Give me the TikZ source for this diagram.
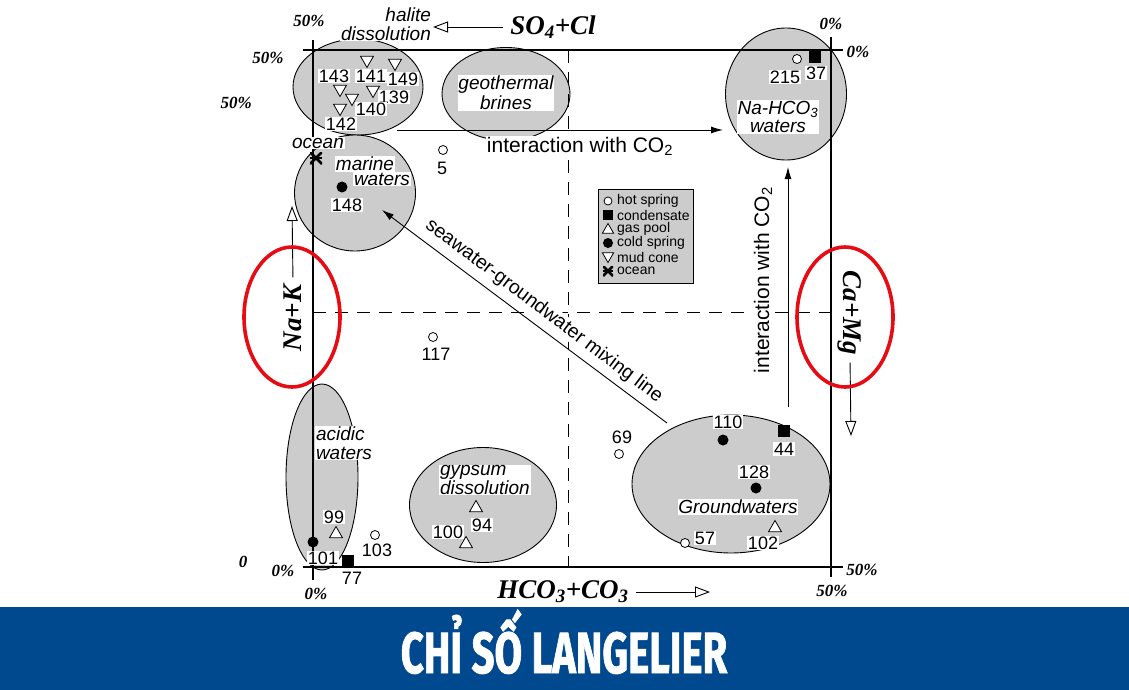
\documentclass[tikz,border=0pt]{standalone}
\usepackage{graphicx}
\usepackage{fontspec}
\setmainfont{Liberation Sans}
\newfontfamily\axfont{Liberation Serif}
\newfontfamily\bannerfont[BoldFeatures={FakeBold=1.6}]{Fira Sans}
\usetikzlibrary{shapes.geometric,arrows.meta}
\definecolor{bannerblue}{RGB}{0,73,142}
\definecolor{fieldgray}{gray}{0.80}
\definecolor{markred}{RGB}{230,12,20}

\begin{document}
\begin{tikzpicture}[x=1pt, y=-1pt,
  field/.style={ellipse, draw, line width=0.9pt, fill=fieldgray, inner sep=0},
  num/.style={fill=white, inner sep=0.6pt, font=\fontsize{18}{18}\selectfont},
  note/.style={fill=white, inner sep=0.8pt, font=\fontsize{19}{18.5}\selectfont\itshape},
  proc/.style={fill=white, inner sep=0.8pt, font=\fontsize{21}{21}\selectfont},
  legtxt/.style={inner sep=0, anchor=west, font=\fontsize{14}{14}\selectfont},
  axlabel/.style={font=\axfont\bfseries\itshape\fontsize{27}{27}\selectfont},
  pct/.style={inner sep=0, font=\axfont\bfseries\itshape\fontsize{17}{17}\selectfont},
  boxline/.style={line width=1.4pt},
  halfline/.style={dash pattern=on 13pt off 9pt, line width=0.9pt},
  opentip/.style={-{Triangle[open, length=15pt, width=11pt]}, line width=0.9pt, shorten <=4pt},
  solidtip/.style={-{Latex[length=12pt, width=7pt]}, line width=0.9pt},
  hotspr/.style={circle, draw, fill=white, line width=0.8pt, inner sep=0, minimum size=9pt},
  cond/.style={rectangle, fill=black, inner sep=0, minimum size=12pt},
  coldspr/.style={circle, fill=black, inner sep=0, minimum size=11pt},
  gaspl/.style={regular polygon, regular polygon sides=3, draw, fill=white, line width=0.8pt, inner sep=0, minimum size=15pt},
  mudcn/.style={gaspl, shape border rotate=180},
  oceanmk/.style={inner sep=0, minimum size=12pt, path picture={
    \draw[line width=2.6pt] (path picture bounding box.north west) -- (path picture bounding box.south east)
      (path picture bounding box.north east) -- (path picture bounding box.south west);
    \draw[line width=2pt] (path picture bounding box.west) -- (path picture bounding box.east);}},
  ringmark/.style={ellipse, draw=markred, line width=3.6pt, inner sep=0}]

  \useasboundingbox (0,0) rectangle (1129,690);

  \node[field, minimum width=130pt, minimum height=96pt] (fhalite) at (358,87) {};
  \node[field, minimum width=128pt, minimum height=93pt] (fbrine) at (506,94) {};
  \node[field, minimum width=121pt, minimum height=116pt] (fmarine) at (355,193) {};
  \node[field, minimum width=121pt, minimum height=132pt] (fnahco) at (786,94) {};
  \node[field, minimum width=72pt, minimum height=186pt] (facid) at (322,477) {};
  \node[field, minimum width=147pt, minimum height=115pt] (fgyps) at (483,505) {};
  \node[field, minimum width=198pt, minimum height=138pt] (fground) at (731,484) {};

  \draw[boxline] (303,50) -- (843,50);
  \draw[boxline] (303,567) -- (843,567);
  \draw[boxline] (313,40) -- (313,580);
  \draw[boxline] (831,37) -- (831,577);
  \draw[halfline] (568,50) -- (568,567);
  \draw[halfline] (313,312) -- (831,312);

  \coordinate (co2a) at (397,130);
  \coordinate (co2b) at (723,130);
  \coordinate (co2c) at (788,407);
  \coordinate (co2d) at (788,167);
  \coordinate (mixa) at (667,423);
  \coordinate (mixb) at (382,210);
  \draw[solidtip] (co2a) -- (co2b);
  \draw[solidtip] (co2c) -- (co2d);
  \draw[solidtip] (mixa) -- (mixb);

  \node[proc] (lco2h) at (580,146) {interaction with CO\textsubscript{2}};
  \node[proc, rotate=90] (lco2v) at (763,280) {interaction with CO\textsubscript{2}};
  \node[proc, font=\fontsize{19.5}{20}\selectfont, rotate=-37] (lmix) at (544,311) {seawater-groundwater mixing line};

  \node[draw, line width=0.9pt, fill=fieldgray, minimum width=95pt, minimum height=94pt, inner sep=0] (legend) at (645.5,236) {};
  \foreach \txt [count=\i] in {hot spring, condensate, gas pool, cold spring, mud cone, ocean}
    \node[legtxt] (leg\i) at (617,187+14*\i) {\txt};
  \node[hotspr, minimum size=8pt] (k1) at (608,201) {};
  \node[cond, minimum size=10pt] (k2) at (608,215) {};
  \node[gaspl, minimum size=13pt] (k3) at (608,230) {};
  \node[coldspr, minimum size=10pt] (k4) at (608,243) {};
  \node[mudcn, minimum size=13pt] (k5) at (608,256) {};
  \node[oceanmk, minimum size=10pt] (k6) at (608,271) {};

  \node[note, align=right] (lhalite) at (386,24) {halite\\dissolution};
  \node[note, align=center, font=\fontsize{19}{20}\selectfont\itshape] (lbrine) at (506,93) {geothermal\\brines};
  \node[note] (locean) at (318,143) {ocean};
  \node[note] (lmar1) at (365,164) {marine};
  \node[note] (lmar2) at (382,179) {waters};
  \node[note, align=center] (lnahco) at (778,117) {Na-HCO\textsubscript{3}\\waters};
  \node[note, align=left, anchor=west] (lacid) at (315,443) {acidic\\waters};
  \node[note, align=left, anchor=west, font=\fontsize{19}{16.5}\selectfont\itshape] (lgyps) at (439,480) {gypsum\\dissolution};
  \node[note] (lground) at (738,507) {Groundwaters};

  \node[num] (l143) at (334,76) {143};
  \node[num] (l141) at (371,76) {141};
  \node[num] (l149) at (403,79) {149};
  \node[num] (l139) at (394,97) {139};
  \node[num] (l140) at (371,109) {140};
  \node[num] (l142) at (341,124) {142};
  \node[num] (l5) at (442,168) {5};
  \node[num] (l148) at (347,205) {148};
  \node[num] (l215) at (785,77) {215};
  \node[num] (l37) at (816,73) {37};
  \node[num] (l117) at (436,354) {117};
  \node[num] (l69) at (622,437) {69};
  \node[num] (l110) at (728,422) {110};
  \node[num] (l44) at (784,449) {44};
  \node[num] (l128) at (754,472) {128};
  \node[num] (l102) at (763,543) {102};
  \node[num] (l57) at (705,538) {57};
  \node[num] (l99) at (334,517) {99};
  \node[num] (l101) at (323,558) {101};
  \node[num] (l77) at (352,578) {77};
  \node[num] (l103) at (377,550) {103};
  \node[num] (l94) at (482,525) {94};
  \node[num] (l100) at (448,532) {100};

  \node[mudcn] (m141) at (367,60) {};
  \node[mudcn] (m149) at (395,63) {};
  \node[mudcn] (m143) at (340,89) {};
  \node[mudcn] (m139) at (373,90) {};
  \node[mudcn] (m140) at (352,98) {};
  \node[mudcn] (m142) at (340,108) {};
  \node[hotspr] (h5) at (443,150) {};
  \node[oceanmk] (ocean) at (316,158) {};
  \node[coldspr] (c148) at (342,187) {};
  \node[hotspr] (h215) at (797,59) {};
  \node[cond] (s37) at (815,57) {};
  \node[hotspr] (h117) at (433,337) {};
  \node[hotspr] (h69) at (619,454) {};
  \node[coldspr] (c110) at (723,440) {};
  \node[cond] (s44) at (784,431) {};
  \node[coldspr] (c128) at (756,488) {};
  \node[gaspl] (g102) at (775,528) {};
  \node[hotspr] (h57) at (685,543) {};
  \node[gaspl] (g99) at (336,534) {};
  \node[coldspr] (c101) at (313,542) {};
  \node[cond] (s77) at (348,561) {};
  \node[hotspr] (h103) at (375,535) {};
  \node[gaspl] (g94) at (476,508) {};
  \node[gaspl] (g100) at (466,544) {};

  \node[axlabel] (so4) at (553,27) {SO\textsubscript{4}+Cl};
  \node[axlabel] (hco3) at (563,592) {HCO\textsubscript{3}+CO\textsubscript{3}};
  \node[axlabel, rotate=90] (nak) at (293,318) {Na+K};
  \node[axlabel, rotate=-90] (camg) at (850,313) {Ca+Mg};
  \coordinate (soarr) at (433,27);
  \coordinate (hcoarr) at (710,592);
  \coordinate (nakarr) at (292,206);
  \coordinate (camgarr) at (851,436);
  \draw[opentip] (so4.west) -- (soarr);
  \draw[opentip] (hco3.east) -- (hcoarr);
  \draw[opentip] (nak.east) -- (nakarr);
  \draw[opentip] (camg.east) -- (camgarr);

  \node[pct] (p1) at (309,21) {50\%};
  \node[pct] (p2) at (268,58) {50\%};
  \node[pct, anchor=east] (p3) at (252,103) {50\%};
  \node[pct] (p4) at (831,24) {0\%};
  \node[pct] (p5) at (858,52) {0\%};
  \node[pct] (p6) at (862,570) {50\%};
  \node[pct] (p7) at (832,591) {50\%};
  \node[pct] (p8) at (283,571) {0\%};
  \node[pct] (p9) at (316,594) {0\%};
  \node[pct] (p10) at (243,562) {0};

  \node[ringmark, minimum width=96pt, minimum height=140pt] (ringl) at (292,317) {};
  \node[ringmark, minimum width=96pt, minimum height=140pt] (ringr) at (845,317) {};

  \fill[bannerblue] (0,607) rectangle (1129,690);
  \node[text=white, anchor=base, inner sep=0] (title) at (564,673)
    {\scalebox{0.69}[1]{\bannerfont\bfseries\fontsize{58}{58}\selectfont CHỈ SỐ LANGELIER}};
\end{tikzpicture}
\end{document}
